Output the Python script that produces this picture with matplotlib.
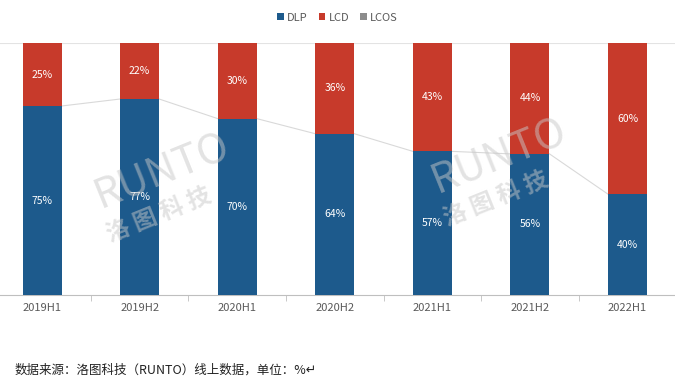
import numpy as np
import matplotlib.pyplot as plt

plt.rcParams['font.family'] = ['Noto Sans CJK SC', 'DejaVu Sans']

periods = ['2019H1', '2019H2', '2020H1', '2020H2', '2021H1', '2021H2', '2022H1']
dlp = [75, 77, 70, 64, 57, 56, 40]
lcd = [25, 22, 30, 36, 43, 44, 60]
lcos = [0, 0, 0, 0, 0, 0, 0]

c_dlp = '#1D5A8C'
c_lcd = '#C73A2B'
c_lcos = '#8C8C8C'

fig = plt.figure(figsize=(6.75, 3.9), dpi=100)
ax = fig.add_axes([-0.01, 0.2436, 1.012, 0.6461])

x = np.arange(len(periods))
w = 0.4
dlp = np.array(dlp, dtype=float)
lcd = np.array(lcd, dtype=float)
lcos = np.array(lcos, dtype=float)
# 100% stacked: normalise each column
tot = dlp + lcd + lcos
p_dlp = dlp / tot * 100
p_lcd = lcd / tot * 100
p_lcos = lcos / tot * 100

ax.bar(x, p_dlp, w, color=c_dlp, label='DLP', zorder=3)
ax.bar(x, p_lcd, w, bottom=p_dlp, color=c_lcd, label='LCD', zorder=3)
ax.bar(x, p_lcos, w, bottom=p_dlp + p_lcd, color=c_lcos, label='LCOS', zorder=3)

# series lines between DLP tops
for i in range(len(x) - 1):
    ax.plot([x[i] + w / 2, x[i + 1] - w / 2], [p_dlp[i], p_dlp[i + 1]],
            color='#D9D9D9', lw=0.8, zorder=2)

for i in range(len(x)):
    ax.text(x[i], p_dlp[i] / 2, f'{dlp[i]:.0f}%', ha='center', va='center',
            color='white', fontsize=7.5, zorder=5)
    ax.text(x[i], p_dlp[i] + p_lcd[i] / 2, f'{lcd[i]:.0f}%', ha='center', va='center',
            color='white', fontsize=7.5, zorder=5)

ax.set_xlim(-0.5, 6.5)
ax.set_ylim(0, 100)
ax.axhline(100, color='#E3E3E3', lw=0.8, zorder=1)
ax.set_yticks([])
ax.set_xticks(x)
ax.set_xticklabels(periods, color='#595959', fontsize=8)
ax.set_xticks(np.arange(-0.5, 7, 1), minor=True)
ax.tick_params(axis='x', which='major', length=0, pad=6)
ax.tick_params(axis='x', which='minor', length=4, color='#BFBFBF')
for s in ['top', 'right', 'left']:
    ax.spines[s].set_visible(False)
ax.spines['bottom'].set_color('#BFBFBF')

leg = fig.legend(loc='center', bbox_to_anchor=(0.5, 0.955), ncol=3, frameon=False,
                 fontsize=8, handlelength=0.6, handleheight=0.6, handletextpad=0.3,
                 columnspacing=1.0)
for t in leg.get_texts():
    t.set_color('#595959')

# watermark
for wx, wy in [(0.24, 0.56), (0.74, 0.60)]:
    fig.text(wx, wy, 'RUNTO', fontsize=30, color='#C8C8C8', alpha=0.5,
             rotation=22, ha='center', va='center', style='italic')
    fig.text(wx - 0.005, wy - 0.11, '洛 图 科 技', fontsize=17, color='#C8C8C8',
             alpha=0.5, rotation=22, ha='center', va='center', weight='bold')

fig.text(0.022, 0.052, '数据来源：洛图科技（RUNTO）线上数据，单位：%↵', fontsize=9,
         color='#222222', ha='left', va='center')

fig.savefig('out.png', dpi=100)
